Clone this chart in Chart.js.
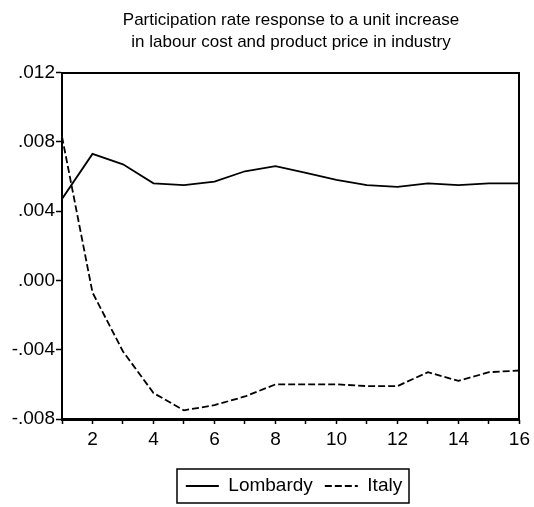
<!DOCTYPE html>
<html><head><meta charset="utf-8">
<script src="https://cdn.jsdelivr.net/npm/chart.js@4.4.0/dist/chart.umd.min.js"></script>
<style>html,body{margin:0;padding:0;background:#fff}canvas{display:block}</style>
</head><body>
<canvas id="c" width="534" height="507"></canvas>
<script>
const titleLines = ['Participation rate response to a unit increase', 'in labour cost and product price in industry'];
const periods = [1, 2, 3, 4, 5, 6, 7, 8, 9, 10, 11, 12, 13, 14, 15, 16];
const seriesNames = ['Lombardy', 'Italy'];
const lombardy = [0.0047, 0.0073, 0.0067, 0.0056, 0.0055, 0.0057, 0.0063, 0.0066, 0.0062, 0.0058, 0.0055, 0.0054, 0.0056, 0.0055, 0.0056, 0.0056];
const italy = [0.0083, -0.0007, -0.0041, -0.0065, -0.0075, -0.0072, -0.0067, -0.0060, -0.0060, -0.0060, -0.0061, -0.0061, -0.0053, -0.0058, -0.0053, -0.0052];
const yTickValues = [-0.008, -0.004, 0.000, 0.004, 0.008, 0.012];
const yTickLabels = ['-.008', '-.004', '.000', '.004', '.008', '.012'];
const xTickValues = [1, 2, 3, 4, 5, 6, 7, 8, 9, 10, 11, 12, 13, 14, 15, 16];
const xTickLabels = ['', '2', '', '4', '', '6', '', '8', '', '10', '', '12', '', '14', '', '16'];

const FONT = "'Liberation Sans', Arial, sans-serif";
const PLOT = {left: 62, right: 523, top: 73, bottom: 419};
const TITLE_CENTER = 291;
const LEGEND_CENTER = 294;
const LEGEND_TEXT_Y = 486;

const toPoints = (vals) => vals.map((v, i) => ({x: periods[i], y: v}));

const layoutPlugin = {
  id: 'placeBoxes',
  afterLayout(chart) {
    const t = chart.titleBlock;
    if (t) { const d = TITLE_CENTER - (t.left + t.right) / 2; t.left += d; t.right += d; }
    const lg = chart.legend;
    if (lg) {
      const d = LEGEND_CENTER - (lg.left + lg.right) / 2;
      lg.left += d; lg.right += d;
      const p = lg.options.labels.padding;
      const h = lg.height;
      lg.top = LEGEND_TEXT_Y - p - 9.5; lg.bottom = lg.top + h;
    }
  },
  afterDraw(chart) {
    const ctx = chart.ctx, a = chart.chartArea;
    ctx.save();
    ctx.strokeStyle = '#000'; ctx.lineWidth = 2;
    ctx.strokeRect(Math.round(a.left), Math.round(a.top), Math.round(a.right - a.left), Math.round(a.bottom - a.top));
    const lg = chart.legend;
    if (lg && lg.legendHitBoxes && lg.legendHitBoxes.length) {
      const hb = lg.legendHitBoxes;
      const l = hb[0].left - 9, r = hb[hb.length - 1].left + hb[hb.length - 1].width + 7;
      ctx.lineWidth = 1.5;
      ctx.strokeRect(Math.round(l), LEGEND_TEXT_Y - 17, Math.round(r - l), 34);
    }
    ctx.restore();
  }
};

new Chart(document.getElementById('c'), {
  type: 'line',
  data: {
    datasets: [
      {label: seriesNames[0], data: toPoints(lombardy), borderColor: '#000', backgroundColor: '#000', borderWidth: 1.8, pointRadius: 0, tension: 0, fill: false},
      {label: seriesNames[1], data: toPoints(italy), borderColor: '#000', backgroundColor: '#000', borderWidth: 1.8, borderDash: [7, 3], pointRadius: 0, tension: 0, fill: false}
    ]
  },
  options: {
    responsive: false,
    animation: false,
    devicePixelRatio: 1,
    layout: {padding: {left: 0, right: 534 - PLOT.right, top: 0, bottom: 0}},
    plugins: {
      title: {
        display: true, text: titleLines, color: '#000',
        font: {family: FONT, size: 17, weight: 'normal', lineHeight: 1.25},
        padding: {top: 10, bottom: 20}
      },
      legend: {
        display: true, position: 'bottom',
        labels: {
          color: '#000', font: {family: FONT, size: 19}, usePointStyle: true, pointStyle: 'line',
          pointStyleWidth: 33, padding: 12,
          generateLabels(chart) {
            return chart.data.datasets.map((ds, i) => ({
              text: ds.label, datasetIndex: i, fontColor: '#000', strokeStyle: ds.borderColor,
              fillStyle: ds.borderColor, lineWidth: ds.borderWidth, lineDash: ds.borderDash || [],
              pointStyle: 'line', hidden: false
            }));
          }
        }
      },
      tooltip: {enabled: false}
    },
    scales: {
      x: {
        type: 'linear', min: 1, max: 16,
        afterBuildTicks(s) { s.ticks = xTickValues.map(v => ({value: v})); },
        afterFit(s) { const lh = s.chart.legend ? s.chart.legend.height : 0; s.height = 507 - PLOT.bottom - lh; },
        ticks: {color: '#000', font: {family: FONT, size: 19}, padding: 4, maxRotation: 0, autoSkip: false,
          callback(v, i) { return xTickLabels[i]; }},
        grid: {drawOnChartArea: false, drawTicks: true, tickLength: 5, color: '#000', tickWidth: 1.5},
        border: {display: true, color: '#000', width: 2}
      },
      y: {
        type: 'linear', min: -0.008, max: 0.012,
        afterBuildTicks(s) { s.ticks = yTickValues.map(v => ({value: v})); },
        afterFit(s) { s.width = PLOT.left; },
        ticks: {color: '#000', font: {family: FONT, size: 19}, padding: 1,
          callback(v, i) { return yTickLabels[i]; }},
        grid: {drawOnChartArea: false, drawTicks: true, tickLength: 6, color: '#000', tickWidth: 1.5},
        border: {display: true, color: '#000', width: 2}
      }
    }
  },
  plugins: [layoutPlugin]
});
</script>
</body></html>
